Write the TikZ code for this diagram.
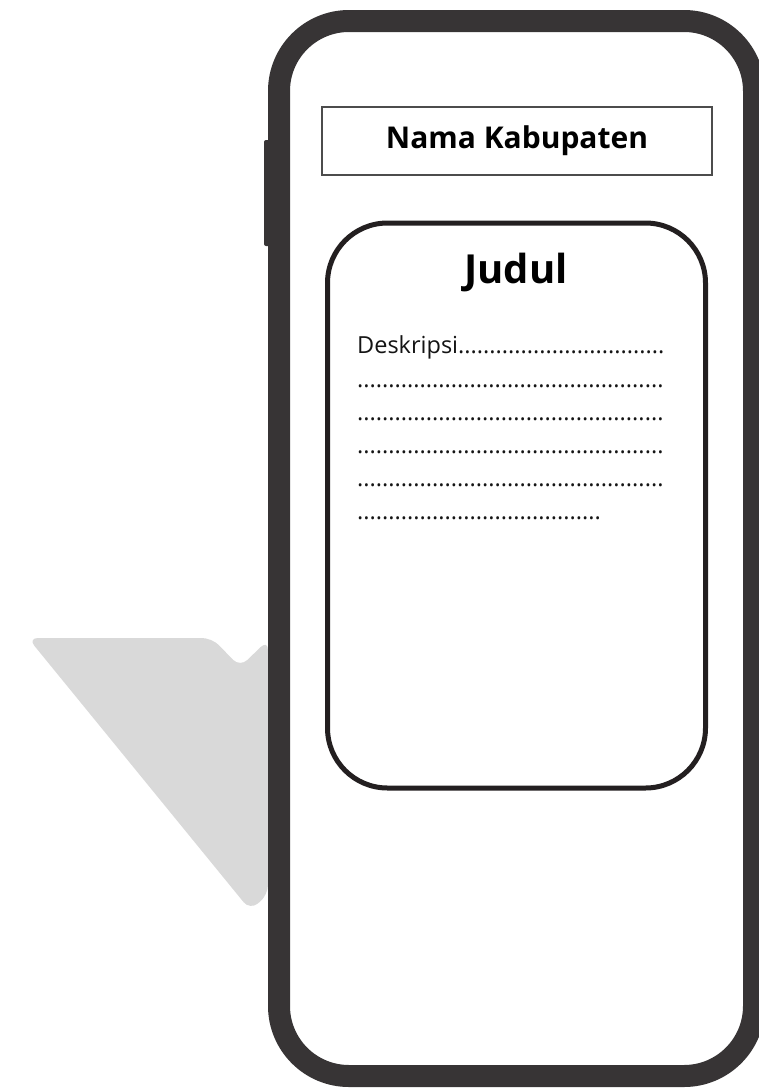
\documentclass[tikz,border=0pt]{standalone}
\usepackage{fontspec}
\setmainfont{Open Sans}
\definecolor{framec}{HTML}{373435}
\definecolor{cardc}{HTML}{231F20}
\definecolor{wmark}{HTML}{D9D9D9}
\tikzset{
  desc/.style={anchor=base west, inner sep=0pt, font=\fontsize{23.5}{28}\selectfont, text=black!92},
}
\begin{document}
\begin{tikzpicture}[x=1pt,y=-1pt]
\useasboundingbox (0,0) rectangle (759,1092);
% watermark
\fill[wmark, rounded corners=10pt] (28,638) -- (212,638) -- (240,667) -- (268,640) -- (268,895) -- (250,910) -- cycle;
% phone body
\draw[framec, line width=22pt, rounded corners=70pt] (279,21) rectangle (754,1076);
\fill[framec, rounded corners=2pt] (264,140) rectangle (274,246);
% header
\node[draw=black!70, line width=1.2pt, minimum width=390pt, minimum height=68pt, inner sep=0pt,
      font=\bfseries\fontsize{30}{32}\selectfont] (header) at (517,141) {Nama Kabupaten};
% card
\node[draw=cardc, line width=5pt, rounded corners=60pt, minimum width=378pt, minimum height=565pt] (card) at (516.5,505.5) {};
\node[anchor=base, inner sep=0pt, font=\bfseries\fontsize{40}{44}\selectfont] (judul) at (516,283) {Judul};
\node[desc] (l1) at (357,353) {Deskripsi.................................};
\node[desc] (l2) at (357,387) {.................................................};
\node[desc] (l3) at (357,420) {.................................................};
\node[desc] (l4) at (357,453) {.................................................};
\node[desc] (l5) at (357,486) {.................................................};
\node[desc] (l6) at (357,519) {.......................................};
\end{tikzpicture}
\end{document}
